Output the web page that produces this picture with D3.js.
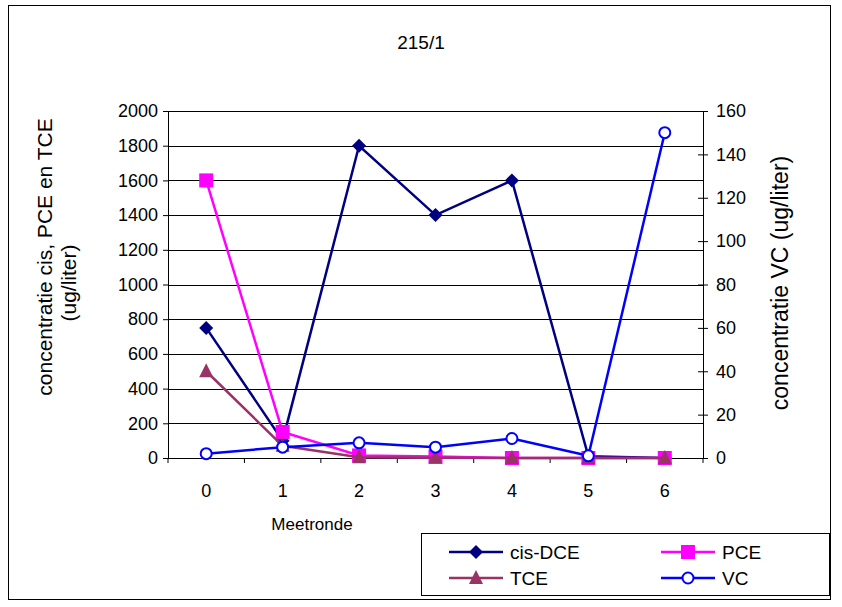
<!DOCTYPE html>
<meta charset="utf-8">
<head>
<style>
body { margin: 0; background: #fff; }
text { font-family: "Liberation Sans", Arial, sans-serif; fill: #000; }
.axis text { font-size: 18px; fill: #000; }
.grid line { stroke: #000; stroke-width: 1; shape-rendering: crispEdges; }
</style>
</head>
<body>
<svg width="842" height="607"></svg>
<script src="https://cdn.jsdelivr.net/npm/d3@7"></script>
<script>

var rounds = ["0", "1", "2", "3", "4", "5", "6"];
var cisDCE = [750, 100, 1800, 1400, 1600, 10, 0];
var PCE = [1600, 150, 15, 8, 0, 0, 0];
var TCE = [500, 70, 5, 2, 0, 0, 0];
var VC = [2, 5, 7, 5, 9, 1, 150];
var leftTicks = [0, 200, 400, 600, 800, 1000, 1200, 1400, 1600, 1800, 2000];
var rightTicks = [0, 20, 40, 60, 80, 100, 120, 140, 160];

var svg = d3.select("svg");

var plotLeft = 168, plotRight = 703, plotTop = 111, plotBottom = 458;

var x = d3.scaleBand().domain(rounds).range([plotLeft, plotRight]);
var y = d3.scaleLinear().domain([0, 2000]).range([plotBottom, plotTop]);
var y2 = d3.scaleLinear().domain([0, 160]).range([plotBottom, plotTop]);

// outer frame
svg.append("rect")
    .attr("x", 8.5).attr("y", 5.5)
    .attr("width", 822).attr("height", 594)
    .attr("fill", "#fff").attr("stroke", "#000");

svg.append("text")
    .attr("x", 421).attr("y", 49)
    .attr("text-anchor", "middle")
    .style("font-size", "19px")
    .text("215/1");

// gridlines
svg.append("g").attr("class", "grid")
  .selectAll("line")
    .data(leftTicks.slice(1))
  .enter().append("line")
    .attr("x1", plotLeft).attr("x2", plotRight)
    .attr("y1", function(d) { return Math.round(y(d)) + 0.5; })
    .attr("y2", function(d) { return Math.round(y(d)) + 0.5; });

// left axis
var gl = svg.append("g").attr("class", "axis")
    .attr("transform", "translate(" + plotLeft + ",0)")
    .call(d3.axisLeft(y).tickValues(leftTicks).tickFormat(d3.format("d")).tickSize(5).tickPadding(5));
gl.selectAll("path, line").attr("stroke", "#000");

// right axis with crossing ticks
var gr = svg.append("g").attr("class", "axis")
    .attr("transform", "translate(" + plotRight + ",0)")
    .call(d3.axisRight(y2).tickValues(rightTicks).tickFormat(d3.format("d")).tickSize(5).tickPadding(8));
gr.selectAll(".tick line").attr("x1", -5);
gr.selectAll("path, line").attr("stroke", "#000");

// bottom axis, ticks between categories
var gb = svg.append("g").attr("class", "axis")
    .attr("transform", "translate(0," + plotBottom + ")")
    .call(d3.axisBottom(x).tickSize(0).tickPadding(26));
gb.select(".domain").attr("stroke", "#000").attr("d", "M" + plotLeft + ",0.5H" + plotRight);
gb.selectAll(".sep")
    .data(d3.range(rounds.length + 1))
  .enter().append("line")
    .attr("x1", function(i) { return plotLeft + i * x.bandwidth(); })
    .attr("x2", function(i) { return plotLeft + i * x.bandwidth(); })
    .attr("y1", 0).attr("y2", 5)
    .attr("stroke", "#000");

svg.append("text")
    .attr("x", 312).attr("y", 530)
    .attr("text-anchor", "middle")
    .style("font-size", "17px")
    .text("Meetronde");

svg.append("text")
    .attr("transform", "translate(52,257) rotate(-90)")
    .attr("text-anchor", "middle")
    .style("font-size", "21px")
    .text("concentratie cis, PCE en TCE");
svg.append("text")
    .attr("transform", "translate(76,283) rotate(-90)")
    .attr("text-anchor", "middle")
    .style("font-size", "21px")
    .text("(ug/liter)");
svg.append("text")
    .attr("transform", "translate(788,283) rotate(-90)")
    .attr("text-anchor", "middle")
    .style("font-size", "23px")
    .text("concentratie VC (ug/liter)");

var series = [
  { name: "cis-DCE", values: cisDCE, scale: y, color: "#000080", shape: "diamond" },
  { name: "PCE", values: PCE, scale: y, color: "#ff00ff", shape: "square" },
  { name: "TCE", values: TCE, scale: y, color: "#993366", shape: "triangle" },
  { name: "VC", values: VC, scale: y2, color: "#0000ff", shape: "circle" }
];

function marker(g, s) {
  if (s.shape === "diamond") {
    g.append("path").attr("d", "M0,-7L7,0L0,7L-7,0Z").attr("fill", s.color);
  } else if (s.shape === "square") {
    g.append("rect").attr("x", -7).attr("y", -7).attr("width", 14).attr("height", 14).attr("fill", s.color);
  } else if (s.shape === "triangle") {
    g.append("path").attr("d", "M0,-8L7,6L-7,6Z").attr("fill", s.color);
  } else {
    g.append("circle").attr("r", 5.5).attr("fill", "#fff").attr("stroke", s.color).attr("stroke-width", 2);
  }
}

var line = d3.line();

series.forEach(function(s) {
  var pts = s.values.map(function(v, i) { return [x(rounds[i]) + x.bandwidth() / 2, s.scale(v)]; });
  svg.append("path")
      .attr("d", line(pts))
      .attr("fill", "none")
      .attr("stroke", s.color)
      .attr("stroke-width", 2.5);
  pts.forEach(function(p) {
    marker(svg.append("g").attr("transform", "translate(" + p[0] + "," + p[1] + ")"), s);
  });
});

// legend
svg.append("rect")
    .attr("x", 421.5).attr("y", 533.5)
    .attr("width", 408).attr("height", 62)
    .attr("fill", "#fff").attr("stroke", "#000");

var leg = svg.selectAll(".leg")
    .data(series)
  .enter().append("g")
    .attr("transform", function(d, i) {
      return "translate(" + (i % 2 ? 661 : 449) + "," + (i < 2 ? 552 : 578) + ")";
    });
leg.append("line")
    .attr("x1", 0).attr("x2", 54)
    .attr("stroke", function(d) { return d.color; })
    .attr("stroke-width", 2.5);
leg.each(function(d) {
  marker(d3.select(this).append("g").attr("transform", "translate(27,0)"), d);
});
leg.append("text")
    .attr("x", 61).attr("dy", "0.35em")
    .style("font-size", "19px")
    .text(function(d) { return d.name; });

</script>
</body>
